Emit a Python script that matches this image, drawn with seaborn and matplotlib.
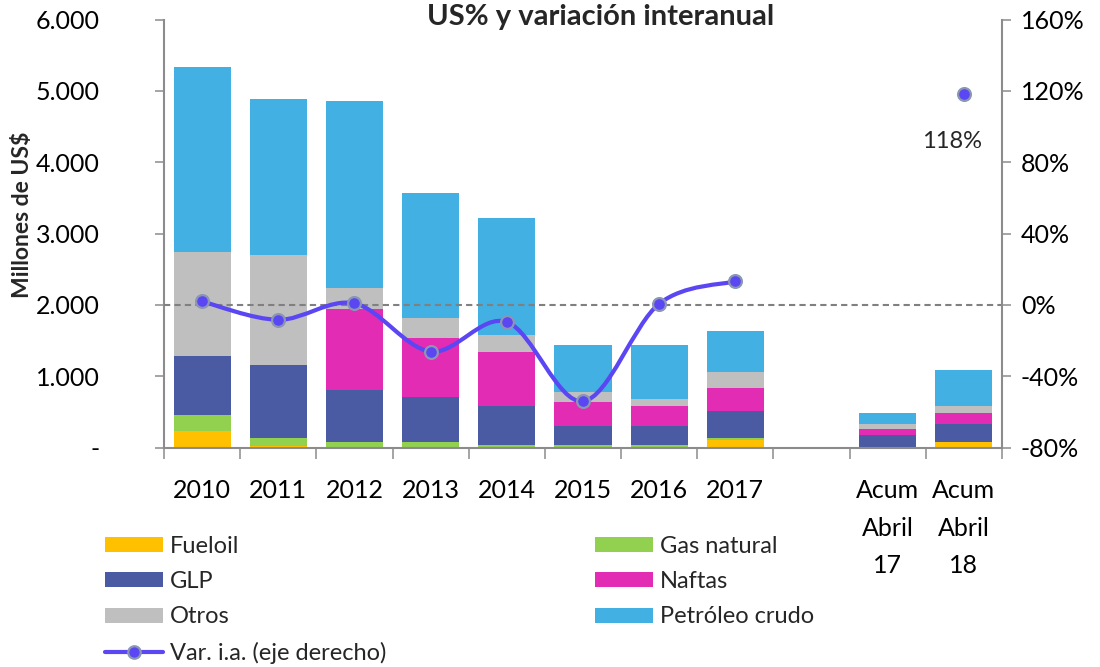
import matplotlib
matplotlib.use("Agg")
import matplotlib.pyplot as plt
import numpy as np
import pandas as pd
import seaborn as sns
from matplotlib.lines import Line2D
from matplotlib.patches import Patch, PathPatch
from matplotlib.path import Path

# Datos (millones de US$)
periodos = ["2010", "2011", "2012", "2013", "2014", "2015", "2016", "2017",
            "Acum\nAbril\n17", "Acum\nAbril\n18"]
fueloil = [229, 15, 10, 10, 5, 5, 5, 108, 6, 74]
gas_natural = [230, 121, 64, 64, 37, 37, 37, 28, 4, 4]
glp = [820, 1016, 731, 633, 538, 257, 257, 380, 159, 249]
naftas = [0, 0, 1134, 824, 755, 343, 281, 313, 94, 155]
otros = [1461, 1546, 295, 291, 248, 131, 99, 229, 70, 103]
petroleo_crudo = [2591, 2188, 2624, 1746, 1634, 664, 758, 572, 155, 497]
# variacion interanual (%), eje derecho
var_ia = [1.9, -8.4, 0.8, -26.2, -9.6, -54.1, 0.6, 13.2, None, 118]

orden = periodos[:8] + [" "] + periodos[8:]
series = ["Fueloil", "Gas natural", "GLP", "Naftas", "Otros", "Petróleo crudo"]
colores = {
    "Fueloil": "#FFC000",
    "Gas natural": "#92D050",
    "GLP": "#4A5BA4",
    "Naftas": "#E22CB4",
    "Otros": "#BFBFBF",
    "Petróleo crudo": "#42B0E2",
}
color_linea = "#5A46F2"
gris = "#8C8C8C"

df = pd.DataFrame({"periodo": periodos, "Fueloil": fueloil, "Gas natural": gas_natural,
                   "GLP": glp, "Naftas": naftas, "Otros": otros,
                   "Petróleo crudo": petroleo_crudo})
acumulado = df[series].cumsum(axis=1)

sns.set_theme(style="white")
plt.rcParams["font.family"] = ["Lato", "DejaVu Sans"]


def curva_suave(xs, ys):
    # curva tipo Excel "linea suavizada" (Catmull-Rom como Bezier)
    pts = np.column_stack([xs, ys]).astype(float)
    verts = [pts[0]]
    codes = [Path.MOVETO]
    for i in range(len(pts) - 1):
        p0 = pts[max(i - 1, 0)]
        p1, p2 = pts[i], pts[i + 1]
        p3 = pts[min(i + 2, len(pts) - 1)]
        verts += [p1 + (p2 - p0) / 6, p2 - (p3 - p1) / 6, p2]
        codes += [Path.CURVE4] * 3
    return Path(verts, codes)


fig = plt.figure(figsize=(11, 6.67), dpi=100)
ax = fig.add_axes([164 / 1100, 1 - 447.5 / 667, 838 / 1100, 428 / 667])

# barras apiladas: se dibujan los acumulados de arriba hacia abajo
for s in reversed(series):
    sns.barplot(x=df["periodo"], y=acumulado[s], order=orden, color=colores[s],
                saturation=1, width=0.75, errorbar=None, linewidth=0, ax=ax)

ax.set_ylim(0, 6000)
ax.set_yticks(np.arange(0, 6001, 1000))
ax.set_yticklabels(["-"] + [f"{v:,}".replace(",", ".") for v in range(1000, 6001, 1000)])
ax.set_xlim(-0.5, len(orden) - 0.5)
ax.set_xticks(np.arange(-0.5, len(orden), 1))
ax.set_xticklabels([])
ax.set_xticks(np.arange(len(orden)), minor=True)
ax.set_xticklabels(orden, minor=True, linespacing=1.75)
ax.set_xlabel("")
ax.set_ylabel("")
ax.tick_params(axis="y", left=True, length=6.5, width=1.1, color=gris, pad=40,
               labelsize=18, labelcolor="black")
ax.tick_params(axis="x", which="major", bottom=True, length=8, width=1.1, color=gris)
ax.tick_params(axis="x", which="minor", bottom=True, length=0, pad=23, labelsize=18,
               labelcolor="black")

ax2 = ax.twinx()
ax2.set_ylim(-80, 160)
ax2.set_yticks(np.arange(-80, 161, 40))
ax2.set_yticklabels([f"{v}%" for v in range(-80, 161, 40)])
ax2.tick_params(axis="y", right=True, length=6.5, width=1.1, color=gris, pad=7,
                labelsize=18, labelcolor="black")
ax2.axhline(0, color="#808080", lw=1.5, ls=(0, (3, 2)), zorder=2)

pos = [orden.index(p) for p in periodos]
tramo_x = [pos[i] for i in range(8)]
tramo_y = var_ia[:8]
ax2.add_patch(PathPatch(curva_suave(tramo_x, tramo_y), facecolor="none",
                        edgecolor=color_linea, lw=3, zorder=3, capstyle="round"))
puntos = pd.DataFrame({"x": pos, "y": var_ia}).dropna()
sns.scatterplot(data=puntos, x="x", y="y", s=85, color=color_linea, edgecolor="#8A96B4",
                linewidth=1.6, zorder=4, legend=False, ax=ax2)
ax2.set_xlabel("")
ax2.set_ylabel("")
ax2.annotate("118%", xy=(pos[-1], var_ia[-1]), xytext=(-12, -47),
             textcoords="offset pixels", ha="center", va="center", fontsize=17)

for a in (ax, ax2):
    for sp in a.spines.values():
        sp.set_color(gris)
        sp.set_linewidth(1.5)
    a.spines["top"].set_visible(False)
    a.grid(False)
ax2.spines["left"].set_visible(False)
ax2.spines["bottom"].set_visible(False)
ax.spines["right"].set_visible(False)

fig.text(601 / 1100, 1 - 25 / 667, "US% y variación interanual", ha="center",
         va="baseline", fontsize=21, fontweight="bold")
fig.text(23 / 1100, 1 - 215 / 667, r"Millones de US\$", rotation=90, ha="center",
         va="center", fontsize=16.5, fontweight="bold")

h = {s: Patch(facecolor=colores[s], edgecolor="none", label=s) for s in series}
h_var = Line2D([], [], color=color_linea, lw=3, marker="o", markersize=9,
               markerfacecolor=color_linea, markeredgecolor="#8A96B4",
               markeredgewidth=1.6, label="Var. i.a. (eje derecho)")
ley = dict(loc="upper left", frameon=False, fontsize=17, handlelength=2.45,
           handleheight=0.6, handletextpad=0.3, labelspacing=0.6, borderpad=0,
           borderaxespad=0)
fig.legend(handles=[h["Fueloil"], h["GLP"], h["Otros"], h_var],
           bbox_to_anchor=(105 / 1100, 1 - 536 / 667), **ley)
fig.legend(handles=[h["Gas natural"], h["Naftas"], h["Petróleo crudo"]],
           bbox_to_anchor=(595 / 1100, 1 - 536 / 667), **ley)

fig.savefig("out.png", dpi=100)
